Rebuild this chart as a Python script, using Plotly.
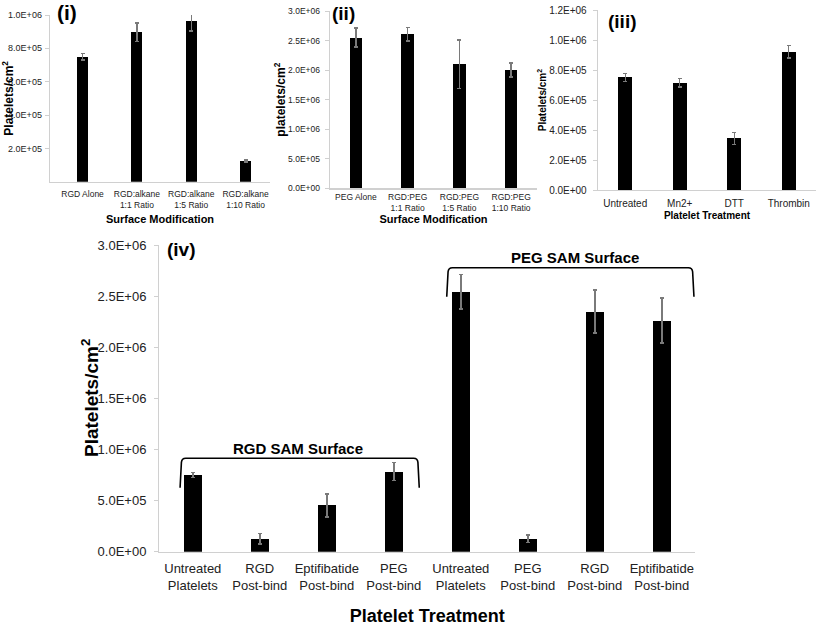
import plotly.graph_objects as go

# ---------------- data ----------------
cats_i = ["RGD Alone", "RGD:alkane<br>1:1 Ratio", "RGD:alkane<br>1:5 Ratio", "RGD:alkane<br>1:10 Ratio"]
vals_i = [7.50e5, 8.96e5, 9.64e5, 1.24e5]
err_i = [2.0e4, 5.5e4, 6.0e4, 6.0e3]

cats_ii = ["PEG Alone", "RGD:PEG<br>1:1 Ratio", "RGD:PEG<br>1:5 Ratio", "RGD:PEG<br>1:10 Ratio"]
vals_ii = [2.55e6, 2.605e6, 2.10e6, 2.00e6]
err_ii = [1.6e5, 1.15e5, 4.1e5, 1.2e5]

cats_iii = ["Untreated", "Mn2+", "DTT", "Thrombin"]
vals_iii = [7.51e5, 7.16e5, 3.44e5, 9.22e5]
err_iii = [2.7e4, 2.8e4, 4.0e4, 4.2e4]

cats_iv = ["Untreated<br>Platelets", "RGD<br>Post-bind", "Eptifibatide<br>Post-bind", "PEG<br>Post-bind",
           "Untreated<br>Platelets", "PEG<br>Post-bind", "RGD<br>Post-bind", "Eptifibatide<br>Post-bind"]
vals_iv = [7.50e5, 1.27e5, 4.53e5, 7.83e5, 2.543e6, 1.27e5, 2.348e6, 2.26e6]
err_iv = [2.3e4, 5.0e4, 1.12e5, 8.7e4, 1.7e5, 3.5e4, 2.1e5, 2.2e5]

ticks_i = [2e5, 4e5, 6e5, 8e5, 1e6]
ticklabels_i = ["2.0E+05", "4.0E+05", "6.0E+05", "8.0E+05", "1.0E+06"]
ticks_ii = [0, 5e5, 1e6, 1.5e6, 2e6, 2.5e6, 3e6]
ticklabels_ii = ["0.0E+00", "5.0E+05", "1.0E+06", "1.5E+06", "2.0E+06", "2.5E+06", "3.0E+06"]
ticks_iii = [0, 2e5, 4e5, 6e5, 8e5, 1e6, 1.2e6]
ticklabels_iii = ["0.0E+00", "2.0E+05", "4.0E+05", "6.0E+05", "8.0E+05", "1.0E+06", "1.2E+06"]
ticks_iv = ticks_ii
ticklabels_iv = ticklabels_ii

panel_labels = ["(i)", "(ii)", "(iii)", "(iv)"]
groups_iv = ["RGD SAM Surface", "PEG SAM Surface"]

W, H = 817, 626
FONT = "Liberation Sans, Arial, sans-serif"
AXC = "#d0d0d0"
ERRC = "#7a7a7a"

def py(p):
    return 1 - p / H

def px(p):
    return p / W

fig = go.Figure()

panels = [
    (cats_i, vals_i, err_i, "x", "y", 0.20),
    (cats_ii, vals_ii, err_ii, "x2", "y2", 0.245),
    (cats_iii, vals_iii, err_iii, "x3", "y3", 0.26),
    (cats_iv, vals_iv, err_iv, "x4", "y4", 0.26),
]
for cats, vals, errs, xa, ya, bw in panels:
    fig.add_trace(go.Bar(
        x=list(range(len(cats))), y=vals, width=bw, xaxis=xa, yaxis=ya,
        marker=dict(color="black", line=dict(width=0)),
        error_y=dict(type="data", array=errs, color=ERRC, thickness=1.4, width=2),
        showlegend=False, hoverinfo="skip",
    ))

def xaxis(dom, cats, rng, size, anchor, standoff):
    return dict(domain=dom, anchor=anchor, range=rng, tickmode="array",
                tickvals=list(range(len(cats))), ticktext=cats, showgrid=False,
                zeroline=False, showline=True, linecolor=AXC, linewidth=1.3,
                ticks="", ticklabelstandoff=standoff,
                tickfont=dict(family=FONT, size=size, color="#222"),
                automargin=False, fixedrange=True)

def yaxis(dom, rng, tv, tt, size, anchor, standoff):
    return dict(domain=dom, anchor=anchor, range=rng, tickmode="array",
                tickvals=tv, ticktext=tt, showgrid=False, zeroline=False,
                showline=True, linecolor=AXC, linewidth=1.3, ticks="outside",
                ticklen=4, tickcolor=AXC, ticklabelstandoff=standoff,
                tickfont=dict(family=FONT, size=size, color="#222"),
                automargin=False, fixedrange=True)

fig.update_layout(
    width=W, height=H, margin=dict(l=0, r=0, t=0, b=0),
    paper_bgcolor="white", plot_bgcolor="white", bargap=0,
    font=dict(family=FONT, color="black"),
    xaxis=xaxis([px(50), px(270)], cats_i, [-0.6, 3.45], 8.5, "y", 4),
    yaxis=yaxis([py(181.7), py(15)], [0, 1.0e6], ticks_i, ticklabels_i, 9, "x", 1),
    xaxis2=xaxis([px(330), px(537)], cats_ii, [-0.5, 3.5], 8.5, "y2", 0),
    yaxis2=yaxis([py(188.3), py(11)], [0, 3.0e6], ticks_ii, ticklabels_ii, 8.5, "x2", 3),
    xaxis3=xaxis([px(598), px(816)], cats_iii, [-0.5, 3.5], 10, "y3", 4),
    yaxis3=yaxis([py(190), py(10)], [0, 1.2e6], ticks_iii, ticklabels_iii, 10, "x3", 4),
    xaxis4=xaxis([px(159.3), px(695.3)], cats_iv, [-0.5, 7.5], 13, "y4", 4),
    yaxis4=yaxis([py(551.7), py(245)], [0, 3.0e6], ticks_iv, ticklabels_iv, 13, "x4", 5),
)

# axis titles
fig.layout.xaxis.title = dict(text="<b>Surface Modification</b>", font=dict(size=11), standoff=6)
fig.layout.yaxis.title = dict(text="<b>Platelets/cm<sup>2</sup></b>", font=dict(size=12), standoff=0)
fig.layout.xaxis2.title = dict(text="<b>Surface Modification</b>", font=dict(size=11), standoff=0)
fig.layout.yaxis2.title = dict(text="<b>platelets/cm<sup>2</sup></b>", font=dict(size=12), standoff=0)
fig.layout.xaxis3.title = dict(text="<b>Platelet Treatment</b>", font=dict(size=10), standoff=3)
fig.layout.yaxis3.title = dict(text="<b>Platelets/cm<sup>2</sup></b>", font=dict(size=10), standoff=0)
fig.layout.xaxis4.title = dict(text="<b>Platelet Treatment</b>", font=dict(size=18), standoff=20)

# y title of panel (iv), placed tight against its tick labels
fig.add_annotation(text="<b>Platelets/cm<sup>2</sup></b>", xref="paper", yref="paper",
                   x=px(90), y=py(398), textangle=-90, showarrow=False,
                   font=dict(size=19, color="black"), xanchor="center", yanchor="middle")

# panel labels
for lab, (cx, cy, fs) in zip(panel_labels, [(67, 12, 21), (343, 14, 19), (622, 21, 19), (181, 249, 19)]):
    fig.add_annotation(text=f"<b>{lab}</b>", xref="paper", yref="paper", x=px(cx), y=py(cy),
                       showarrow=False, font=dict(size=fs, color="black"),
                       xanchor="center", yanchor="middle")

# brackets on panel (iv)
brackets = [
    (-0.19, 3.38, 6.26e5, 9.14e5, 1.57, 1.014e6),
    (3.79, 7.48, 2.494e6, 2.778e6, 5.70, 2.876e6),
]
for (x0, x1, yb, yt, tx, ty), g in zip(brackets, groups_iv):
    dx, dy = 0.06, 4.0e4
    path = (f"M {x0:.3f},{yb:.0f} L {x0+0.02:.3f},{yt-dy:.0f} "
            f"Q {x0+0.025:.3f},{yt:.0f} {x0+dx+0.025:.3f},{yt:.0f} "
            f"L {x1-dx-0.025:.3f},{yt:.0f} Q {x1-0.025:.3f},{yt:.0f} {x1-0.02:.3f},{yt-dy:.0f} "
            f"L {x1:.3f},{yb:.0f}")
    fig.add_shape(type="path", path=path, xref="x4", yref="y4",
                  line=dict(color="black", width=1.6))
    fig.add_annotation(text=f"<b>{g}</b>", xref="x4", yref="y4", x=tx, y=ty,
                       showarrow=False, font=dict(size=15, color="black"))

fig.write_html("out.html", config={"displayModeBar": False, "staticPlot": True},
               post_script="document.body.style.margin='0';document.body.style.overflow='hidden';")
